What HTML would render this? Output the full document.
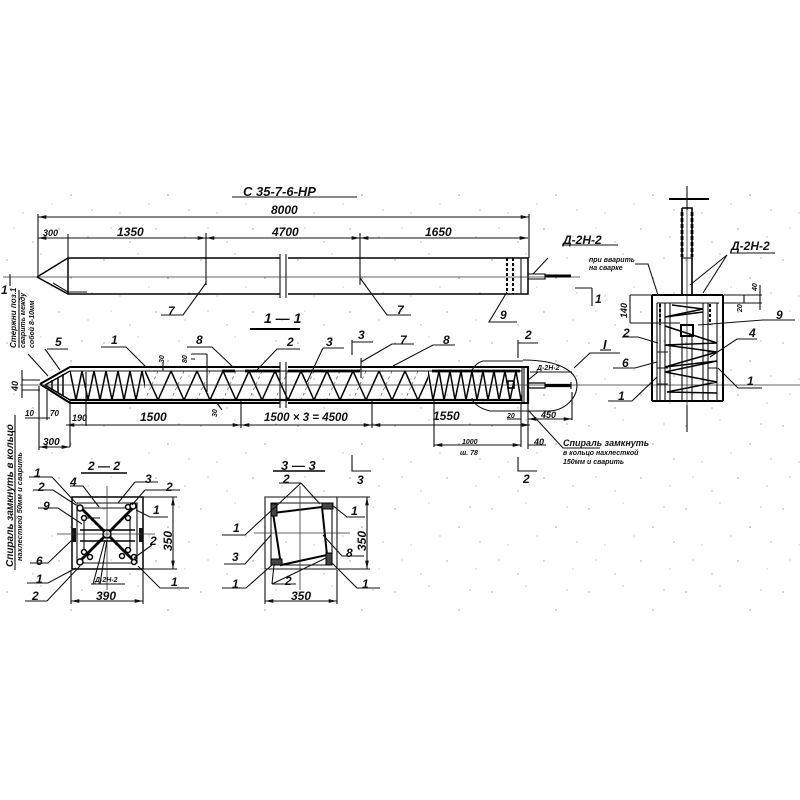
<!DOCTYPE html>
<html><head><meta charset="utf-8">
<style>
html,body{margin:0;padding:0;background:#fff;width:800px;height:800px;overflow:hidden}
svg{display:block;filter:blur(.35px)}
text{font-family:"Liberation Sans","DejaVu Sans",sans-serif;font-style:italic;font-weight:bold;fill:#111}
.d{font-size:12px}
.s{font-size:7px}
.m{font-size:9px}
.l{stroke:#111;stroke-width:1.100;fill:none}
.a{stroke:#111;stroke-width:1.100;fill:none;marker-start:url(#ar);marker-end:url(#ar)}
.h{stroke:#000;stroke-width:2;fill:none}
.t{stroke:#333;stroke-width:.8;fill:none}
.z{stroke:#000;stroke-width:1.500;fill:none}
</style></head><body>
<svg width="800" height="800" viewBox="0 0 800 800" xmlns="http://www.w3.org/2000/svg">
<defs>
<marker id="ar" viewBox="0 0 10 6" refX="10" refY="3" markerWidth="9" markerHeight="5" markerUnits="userSpaceOnUse" orient="auto-start-reverse"><path d="M10 3L0 0.800V5.200Z" fill="#111"/></marker>
<pattern id="sp" width="97" height="83" patternUnits="userSpaceOnUse">
<circle cx="7" cy="11" r=".7" fill="#999"/><circle cx="41" cy="5" r=".6" fill="#aaa"/><circle cx="71" cy="29" r=".8" fill="#999"/><circle cx="23" cy="47" r=".6" fill="#aaa"/><circle cx="59" cy="63" r=".7" fill="#999"/><circle cx="88" cy="71" r=".6" fill="#aaa"/><circle cx="33" cy="76" r=".7" fill="#aaa"/><circle cx="82" cy="9" r=".6" fill="#999"/><circle cx="52" cy="38" r=".6" fill="#aaa"/><circle cx="14" cy="62" r=".6" fill="#aaa"/><circle cx="92" cy="44" r=".6" fill="#999"/>
</pattern>
<pattern id="zd" x="70" y="371" width="12" height="29" patternUnits="userSpaceOnUse"><path class="z" d="M0 0L6 29L12 0"/></pattern>
<pattern id="zs" x="145" y="371" width="26" height="29" patternUnits="userSpaceOnUse"><path class="z" d="M0 0L13 29L26 0"/><path stroke="#444" stroke-width=".6" stroke-dasharray="3 3" fill="none" d="M13 0L0 29"/></pattern>
<pattern id="zr" x="428" y="371" width="11" height="29" patternUnits="userSpaceOnUse"><path class="z" d="M0 0L5 29L11 0"/></pattern>
</defs>
<rect x="0" y="185" width="800" height="430" fill="url(#sp)"/>

<!-- title -->
<text x="243" y="196" font-size="13">С 35-7-6-НР</text>
<path class="l" d="M232 197H357"/>
<text x="271" y="214" class="d">8000</text>
<path class="a" d="M38 217H529"/>
<path class="l" d="M38 214V277M529 214V258"/>

<!-- top elevation -->
<path class="a" d="M38 238H206"/><path class="a" d="M206 238H360"/><path class="a" d="M360 238H528"/>
<path class="l" d="M68 234V258M206 233V285M360 233V285"/>
<text x="43" y="236" class="m">300</text><text x="117" y="236" class="d">1350</text><text x="272" y="236" class="d">4700</text><text x="425" y="236" class="d">1650</text>
<path class="h" style="stroke-width:1.500" d="M37 277L68 258H280M288 258H528V294H288M280 294H68L37 277M68 258V294"/>
<path class="l" d="M280 254V298M286 254V298M53 283L68 292M68 292H87"/>
<path class="t" d="M3 277H580"/>
<path class="l" d="M10 274V286"/><text x="1" y="294" class="d">1</text>
<path class="h" stroke-dasharray="3 2" d="M507 258V294M513 258V294"/>
<path class="l" d="M521 258V294"/>
<path class="h" style="stroke-width:1.100" d="M528 274H545V279H528"/><path class="h" style="stroke-width:3" d="M545 276H571"/>
<path class="l" d="M206 283L183 315H161M360 278L387 315H411M507 292L489 322H517M533 274L548 258"/>
<text x="168" y="315" class="d">7</text><text x="397" y="314" class="d">7</text><text x="500" y="319" class="d">9</text>
<text x="563" y="244" class="d">Д-2Н-2</text><path class="l" d="M562 245H618"/>
<path class="l" d="M575 288H592M592 288V306"/><text x="595" y="303" class="d">1</text>

<!-- section 1-1 -->
<text x="264" y="323" font-size="14">1 — 1</text><path class="h" d="M250 329H300"/>
<rect x="70" y="371" width="75" height="29" fill="url(#zd)"/>
<rect x="145" y="371" width="283" height="29" fill="url(#zs)"/>
<rect x="428" y="371" width="94" height="29" fill="url(#zr)"/>
<path class="z" d="M45 385L70 371M45 385L70 400M52 380V390M58 377V393M63 374V396"/>
<path class="h" d="M40 384L70 367H280M288 367H528V403H288M280 403H70L40 384"/>
<path class="l" d="M70 371H522V400H70M522 367V403M280 362V408M286 362V408M524 367V403"/>
<path class="h" style="stroke-width:2.800" d="M222 371H235M245 371H280M288 371H360M432 371H520"/>
<path class="h" style="stroke-width:2.200" d="M70 400H522M528 366V404"/>
<path class="t" d="M20 385H800"/>
<rect x="508" y="381" width="6" height="7" fill="none" stroke="#000" stroke-width="1.600"/>
<path class="h" style="stroke-width:1.200" d="M528 383H545V388H528"/><path class="h" style="stroke-width:3.200" d="M545 385.500H571"/><path class="l" d="M571 382V389"/>
<path class="l" d="M22 370V398M22 380H40M22 390H40"/><text x="18" y="391" class="m" transform="rotate(-90 18 391)">40</text>
<path class="l" d="M101 347H126L146 367M45 349L60 370M47 349H68M28 354L48 376"/>
<path class="l" d="M187 347H212L233 367M257 370L277 349H300M323 348H344M323 348L307 382"/>
<text x="111" y="344" class="d">1</text><text x="55" y="346" class="d">5</text><text x="196" y="344" class="d">8</text><text x="287" y="346" class="d">2</text><text x="326" y="346" class="d">3</text><text x="400" y="344" class="d">7</text><text x="443" y="344" class="d">8</text>
<path class="l" d="M361 362L392 344H414M393 366L433 345H455M361 358V378M352 340V355M352 342H373"/><text x="358" y="339" class="d">3</text>
<text x="164" y="363" class="s" transform="rotate(-90 164 363)">30</text><path class="l" d="M163 362V371"/>
<text x="187" y="363" class="s" transform="rotate(-90 187 363)">80</text><path class="l" d="M191 354H207M191 359H195M207 354V392"/>
<text x="217" y="417" class="s" transform="rotate(-90 217 417)">30</text><path class="l" d="M217 403L222 410"/>

<!-- lower dimensions -->
<path class="a" d="M66 425H241"/><path class="a" d="M241 425H372"/><path class="a" d="M372 425H530"/>
<path class="l" d="M241 400V428M86 372V426"/>
<path class="l" d="M39 386V450M47 390V420M70 400V447M25 418H50"/><path class="a" d="M39 447H70"/>
<text x="25" y="416" font-size="8">10</text><text x="50" y="416" font-size="8">70</text><text x="72" y="421" class="m">190</text><text x="43" y="445" font-size="10">300</text>
<text x="140" y="421" class="d">1500</text><text x="264" y="421" font-size="11.500">1500 × 3 = 4500</text><text x="433" y="420" class="d">1550</text>
<path class="l" d="M372 400V428M434 400V447M521 403V447M528 403V449M572 392V420"/><path class="a" d="M434 445H521"/><path class="l" d="M528 445H546M507 419H521"/><path class="a" d="M528 419H572"/>
<text x="462" y="444" class="s">1000</text><text x="460" y="455" class="s">ш. 78</text>
<text x="507" y="418" class="s">20</text><text x="541" y="418" class="m">450</text><text x="534" y="445" class="m">40</text>

<!-- section marks -->
<path class="l" d="M518 343H538M518 340V358"/><text x="525" y="339" class="d">2</text>
<path class="l" d="M518 457V471H537"/><text x="523" y="483" class="d">2</text>
<path class="l" d="M352 455V471H371"/><text x="357" y="484" class="d">3</text>

<!-- detail circle I -->
<path class="l" d="M523 360C560 360 577 372 577 385C577 398 565 411 548 411H490C478 408 472 402 472 398M472 370C475 365 478 362 483 361H523"/>
<path class="l" d="M574 368L590 353H620"/>
<text x="603" y="349" font-size="13">I</text><path class="l" d="M600 350H611"/>
<text x="537" y="370" class="s">Д-2Н-2</text><path class="l" d="M530 372H572M528 380L538 372"/>
<path class="l" d="M528 410L563 448H600"/>
<text x="563" y="446" class="m">Спираль замкнуть</text>
<text x="563" y="455" class="s">в кольцо нахлесткой</text>
<text x="563" y="464" class="s">150мм и сварить</text>

<!-- right section -->
<path class="h" d="M669 199H709"/><path class="l" d="M687 186V210"/>
<path class="h" style="stroke-width:1.600" d="M682 208H692V295M682 208V295"/>
<path class="h" style="stroke-width:2.800" stroke-dasharray="4 2" d="M682 212V257M692 212V257"/>
<path class="l" d="M682 258H692"/>
<path class="h" d="M652 295H723M652 295V401M723 295V401M652 401H723"/>
<path class="l" d="M657 303H719M657 303V401M660 303V401M665 303V401M670 303V401M703 303V401M708 303V401M717 303V401"/>
<path class="h" style="stroke-width:1.500" d="M672 305L703 309L665 317L703 312M665 326L717 343L665 345L717 352L665 367L717 361L665 372L717 382L667 392L717 393"/>
<path class="l" d="M657 352H668M657 368H668M657 384H668M708 352H717M708 368H717M682 336V401M692 336V401"/>
<rect x="681" y="325" width="12" height="11" fill="none" stroke="#000" stroke-width="2"/>
<path class="t" d="M687 210V430"/>
<path class="h" stroke-dasharray="3 2" d="M660 304V325M710 304V325"/>
<text x="589" y="262" class="s">при вварить</text><text x="589" y="270" class="s">на сварке</text>
<path class="l" d="M635 264H648L658 295"/>
<text x="731" y="250" class="d">Д-2Н-2</text><path class="l" d="M730 253H775M727 255L690 285M727 255L703 293"/>
<path class="l" d="M724 295H762M724 303H762M744 295V303M760 285V310M630 295H652M630 323H680M630 295V323"/>
<text x="757" y="291" class="s" transform="rotate(-90 757 291)">40</text><text x="742" y="312" class="s" transform="rotate(-90 742 312)">20</text><text x="627" y="318" class="m" transform="rotate(-90 627 318)">140</text>
<text x="776" y="319" class="d">9</text><path class="l" d="M698 325L763 320H795"/>
<text x="749" y="337" class="d">4</text><path class="l" d="M710 357L737 339H757"/>
<text x="747" y="385" class="d">1</text><path class="l" d="M718 368L738 388H762"/>
<text x="623" y="337" class="d">2</text><path class="l" d="M622 337H638L658 343"/>
<text x="622" y="367" class="d">6</text><path class="l" d="M613 368H635L657 362"/>
<text x="618" y="400" class="d">1</text><path class="l" d="M608 401H632L657 377"/>
<path class="l" d="M687 405V432"/>

<!-- rotated notes -->
<text x="16" y="348" font-size="8" transform="rotate(-90 16 348)">Стержни поз.1</text>
<text x="25" y="348" font-size="7" transform="rotate(-90 25 348)">сварить между</text>
<text x="34" y="348" font-size="7" transform="rotate(-90 34 348)">собой 8-10мм</text>
<path class="l" d="M19 348V290"/>
<text x="13" y="567" font-size="10" transform="rotate(-90 13 567)">Спираль замкнуть в кольцо</text>
<text x="22" y="561" font-size="7.500" transform="rotate(-90 22 561)">нахлесткой 50мм и сварить</text>
<path class="l" d="M15 570V415"/>

<!-- section 2-2 -->
<text x="88" y="470" class="d">2 — 2</text><path class="h" style="stroke-width:1.500" d="M81 473H127"/>
<path class="h" style="stroke-width:1.500" d="M72 497H143V569H72Z"/>
<path class="l" d="M77 503H137V563H77ZM84 508H137"/>
<path class="h" style="stroke-width:2.800" d="M80 507L134 561M134 507L80 561"/>
<path class="l" d="M84 518H100M84 518V550M130 518V550"/>
<path class="h" style="stroke-width:1.500" d="M80 530H135M80 541H135"/>
<rect x="72" y="528" width="4" height="14" fill="#111"/><rect x="139" y="528" width="4" height="14" fill="#111"/>
<g fill="#fff" stroke="#000" stroke-width="1.500"><circle cx="80" cy="508" r="3"/><circle cx="84" cy="518" r="2.500"/><circle cx="128" cy="507" r="2.500"/><circle cx="133" cy="506" r="3"/><circle cx="128" cy="518" r="2.500"/><circle cx="80" cy="562" r="3"/><circle cx="90" cy="557" r="2.500"/><circle cx="84" cy="552" r="2.500"/><circle cx="134" cy="557" r="2.500"/><circle cx="134" cy="562" r="2.500"/><circle cx="122" cy="556" r="2.500"/><circle cx="128" cy="550" r="2.500"/><circle cx="107" cy="534" r="4"/></g>
<path class="t" d="M107 486V590M57 534H155"/>
<path class="l" d="M143 497H177M143 569H177M71 570V604M143 570V604"/><path class="a" d="M173 497V569"/><path class="a" d="M71 601H143"/>
<text x="172" y="551" class="d" transform="rotate(-90 172 551)">350</text><text x="96" y="600" class="d">390</text>
<text x="34" y="477" class="d">1</text><path class="l" d="M29 477H52L76 503"/>
<text x="38" y="491" class="d">2</text><path class="l" d="M33 490H53L76 505"/>
<text x="43" y="510" class="d">9</text><path class="l" d="M38 508H58L82 524"/>
<text x="70" y="486" class="d">4</text><path class="l" d="M70 486H83L99 507"/>
<text x="145" y="483" class="d">3</text><path class="l" d="M135 482H158M135 482L118 503"/>
<text x="166" y="491" class="d">2</text><path class="l" d="M145 490H180M145 490L132 505"/>
<text x="153" y="514" class="d">1</text><path class="l" d="M136 510L150 517H168"/>
<text x="150" y="545" class="d">2</text><path class="l" d="M134 558L152 545"/>
<text x="36" y="565" class="d">6</text><path class="l" d="M30 563H48L72 540"/>
<text x="36" y="583" class="d">1</text><path class="l" d="M27 583H48L76 568"/>
<text x="32" y="600" class="d">2</text><path class="l" d="M25 601H47L80 566"/>
<text x="171" y="586" class="d">1</text><path class="l" d="M138 566L160 588H189"/>
<text x="95" y="582" class="s">Д-2Н-2</text><path class="l" d="M91 584H125M93 584L105 540M100 584L107 540"/>

<!-- section 3-3 -->
<text x="281" y="470" font-size="13">3 — 3</text><path class="h" style="stroke-width:1.500" d="M273 471H325"/>
<path class="l" d="M265 497H337V569H265Z"/>
<path class="l" d="M271 503H332V565H271Z"/>
<path class="h" d="M273 513L322 507L327 555L281 565L273 513"/>
<rect x="271" y="504" width="6" height="12" fill="#444" stroke="#000"/><rect x="322" y="503" width="11" height="6" fill="#444" stroke="#000"/><rect x="271" y="559" width="11" height="6" fill="#444" stroke="#000"/><rect x="326" y="553" width="6" height="12" fill="#444" stroke="#000"/>
<path class="t" d="M300 486V590M254 533H350"/>
<path class="l" d="M337 497H370M337 569H370M265 570V604M337 570V604"/><path class="a" d="M367 497V569"/><path class="a" d="M265 601H337"/>
<text x="366" y="551" class="d" transform="rotate(-90 366 551)">350</text><text x="291" y="600" class="d">350</text>
<text x="283" y="483" class="d">2</text><path class="l" d="M279 483H301M301 483L272 510M301 483L320 504"/>
<text x="351" y="515" class="d">1</text><path class="l" d="M332 505L347 517H365"/>
<text x="233" y="532" class="d">1</text><path class="l" d="M222 535H245L272 510"/>
<text x="232" y="561" class="d">3</text><path class="l" d="M224 564H245L271 535"/>
<text x="346" y="557" class="d">8</text><path class="l" d="M323 535L342 556H364"/>
<text x="232" y="588" class="d">1</text><path class="l" d="M222 588H246L272 565"/>
<text x="362" y="588" class="d">1</text><path class="l" d="M331 562L357 588H380"/>
<text x="285" y="585" class="d">2</text><path class="l" d="M272 584H296M272 584L274 565M272 584L326 558"/>
</svg>
</body></html>
